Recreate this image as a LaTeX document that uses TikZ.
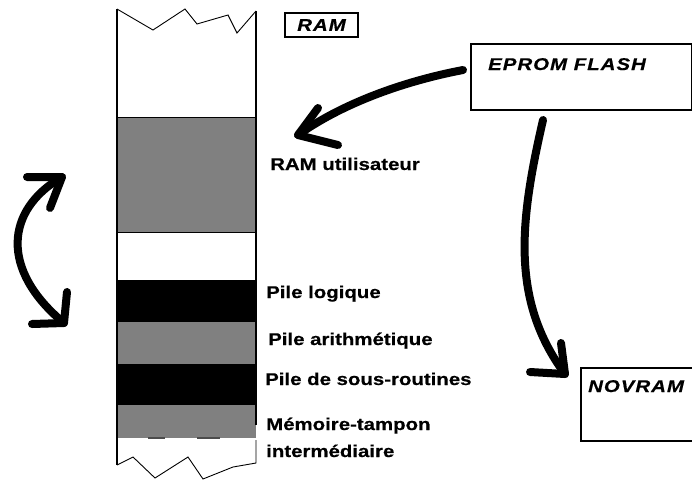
\documentclass[tikz,border=0pt]{standalone}
\usepackage{fontspec}
\setmainfont{Liberation Sans}
\newfontfamily\labfont{Liberation Sans}[FakeStretch=1.2, BoldFeatures={FakeBold=0.5}]
\newfontfamily\ilabfont{Liberation Sans}[FakeStretch=1.2, LetterSpace=6, BoldItalicFeatures={FakeBold=0.5}]
\begin{document}
\begin{tikzpicture}[x=1pt,y=-1pt,
  lab/.style={font=\labfont\bfseries\fontsize{17}{17}\selectfont, anchor=base west, inner sep=0pt},
  ilab/.style={font=\ilabfont\bfseries\itshape\fontsize{17}{17}\selectfont, anchor=base west, inner sep=0pt},
  box/.style={draw, line width=2pt, inner sep=0pt},
  colline/.style={line width=1.3pt},
  zig/.style={line width=0.9pt, line join=miter},
  bigarrow/.style={line width=8pt, line cap=round, line join=round},
  midgray/.style={fill={rgb,255:red,128;green,128;blue,128}}
]
\useasboundingbox (0,0) rectangle (692,480);
\clip (0,0) rectangle (692,480);

% memory column: coloured bands
\fill[midgray] (117,117) rectangle (256,232);
\fill[black]   (117,280) rectangle (256,322);
\fill[midgray] (117,322) rectangle (256,364);
\fill[black]   (117,364) rectangle (256,405);
\fill[midgray] (117,405) rectangle (256,438);
\draw[line width=1.2pt, black!70] (148,438) -- (165,438) (197,438) -- (220,438);
\draw[line width=0.8pt] (117,117) -- (256,117) (117,232) -- (256,232);

% column sides and torn edges
\draw[colline] (117,9) -- (117,465);
\draw[colline] (256,11) -- (256,425);
\draw[zig] (117,9) -- (153,30) -- (185,9) -- (197,24) -- (228,15) -- (237,33) -- (256,11);
\draw[zig] (117,465) -- (133,457) -- (155,478) -- (188,457) -- (203,479) -- (233,467) -- (256,463) -- (256,440);

% region labels
\node[lab] (ramu) at (270,170) {RAM utilisateur};
\node[lab] (plog) at (266,298) {Pile logique};
\node[lab] (parith) at (268,345) {Pile arithmétique};
\node[lab] (psub) at (265,385) {Pile de sous-routines};
\node[lab] (mtamp) at (266,430) {Mémoire-tampon};
\node[lab] (inter) at (266,457) {intermédiaire};

% boxed titles
\node[draw, line width=1.3pt, minimum width=73pt, minimum height=24pt, inner sep=0pt,
      font=\ilabfont\bfseries\itshape\fontsize{17}{17}\selectfont] (ram) at (321.5,25) {RAM};
\node[box, minimum width=221pt, minimum height=66pt, anchor=north west] (eprom) at (470,43) {};
\node[ilab] (epromt) at (488,70) {EPROM FLASH};
\node[box, minimum width=140pt, minimum height=73pt, anchor=north west] (novram) at (580,367) {};
\node[ilab] (novramt) at (588,392) {NOVRAM};

% arrow end points
\coordinate (a1s) at (463,70);
\coordinate (a1t) at (298,135);
\coordinate (a2s) at (543,120);
\coordinate (a2t) at (565,374);
\coordinate (a3t) at (62,177);
\coordinate (a3b) at (64,323);

% EPROM FLASH -> RAM utilisateur
\draw[bigarrow] (a1s) .. controls (400,82) and (340,105) .. (a1t);
\draw[bigarrow] (318,108) -- (a1t) -- (338,145);

% EPROM FLASH -> NOVRAM
\draw[bigarrow] (a2s) .. controls (520,220) and (510,300) .. (a2t);
\draw[bigarrow] (561,343) -- (a2t) -- (530,372);

% double-headed arrow on the left
\draw[bigarrow] (a3t) .. controls (5,210) and (0,270) .. (a3b);
\draw[bigarrow] (27,177) -- (a3t) -- (50,208);
\draw[bigarrow] (67,292) -- (a3b) -- (32,324);
\end{tikzpicture}
\end{document}
